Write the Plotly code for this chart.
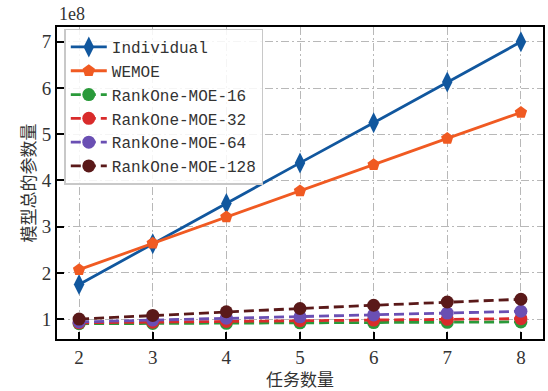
import plotly.graph_objects as go

tasks = [2, 3, 4, 5, 6, 7, 8]
individual = [1.75, 2.63, 3.50, 4.38, 5.25, 6.13, 7.00]
wemoe = [2.07, 2.64, 3.21, 3.77, 4.34, 4.91, 5.47]
rankone_16 = [0.90, 0.905, 0.91, 0.92, 0.925, 0.93, 0.94]
rankone_32 = [0.92, 0.935, 0.95, 0.965, 0.98, 0.995, 1.01]
rankone_64 = [0.94, 0.98, 1.02, 1.05, 1.09, 1.13, 1.17]
rankone_128 = [1.00, 1.08, 1.16, 1.23, 1.30, 1.37, 1.43]
y_ticks = [1, 2, 3, 4, 5, 6, 7]

series = [
    ("Individual", individual, "#11579e", "diamond-tall", 15, "solid"),
    ("WEMOE", wemoe, "#f05a22", "pentagon", 13, "solid"),
    ("RankOne-MOE-16", rankone_16, "#2a9a3a", "circle", 13, "10px,5px"),
    ("RankOne-MOE-32", rankone_32, "#d92b2b", "circle", 13, "10px,5px"),
    ("RankOne-MOE-64", rankone_64, "#6a4fb3", "circle", 13, "10px,5px"),
    ("RankOne-MOE-128", rankone_128, "#5a1919", "circle", 13, "10px,5px"),
]

fig = go.Figure()
for name, vals, color, sym, size, dash in series:
    fig.add_trace(go.Scatter(
        x=tasks, y=vals, name=name, mode="lines+markers",
        line=dict(color=color, width=2.8, dash=dash),
        marker=dict(symbol=sym, size=size, color=color, line=dict(width=0)),
    ))

serif = "Liberation Serif, DejaVu Serif, serif"
cjk = "Noto Sans CJK SC"
grid_dash = "8px,3px,2px,3px"

fig.update_layout(
    width=548, height=391,
    margin=dict(l=57, r=3, t=27, b=49),
    plot_bgcolor="white", paper_bgcolor="white",
    showlegend=True,
    legend=dict(
        x=0.015, y=0.995, xanchor="left", yanchor="top",
        bgcolor="rgba(255,255,255,0.85)", bordercolor="#c8c8c8", borderwidth=1.5,
        font=dict(family="Liberation Mono, DejaVu Sans Mono, monospace", size=16, color="#333"),
        tracegroupgap=0, itemwidth=36,
    ),
    xaxis=dict(
        range=[1.7, 8.3], tickvals=tasks, ticks="inside", ticklen=7, tickwidth=1.5,
        tickcolor="black", showline=True, linecolor="black", linewidth=1.8, mirror=True,
        showgrid=True, gridcolor="#b8b8b8", gridwidth=1, griddash=grid_dash,
        zeroline=False,
        tickfont=dict(family=serif, size=19, color="#333"),
        title=dict(text="任务数量", font=dict(family=cjk, size=17, color="#333"), standoff=8),
    ),
    yaxis=dict(
        range=[0.57, 7.32], tickvals=y_ticks, ticks="inside", ticklen=7, tickwidth=1.5,
        tickcolor="black", showline=True, linecolor="black", linewidth=1.8, mirror=True,
        showgrid=True, gridcolor="#b8b8b8", gridwidth=1, griddash=grid_dash,
        zeroline=False,
        tickfont=dict(family=serif, size=19, color="#333"),
        title=dict(text="模型总的参数量", font=dict(family=cjk, size=17, color="#333"), standoff=2),
    ),
    annotations=[dict(
        text="1e8", xref="paper", yref="paper", x=0.0, y=1.0, xanchor="left", yanchor="bottom",
        showarrow=False, font=dict(family=serif, size=18, color="#333"), yshift=1,
    )],
)

fig.write_html("out.html")
